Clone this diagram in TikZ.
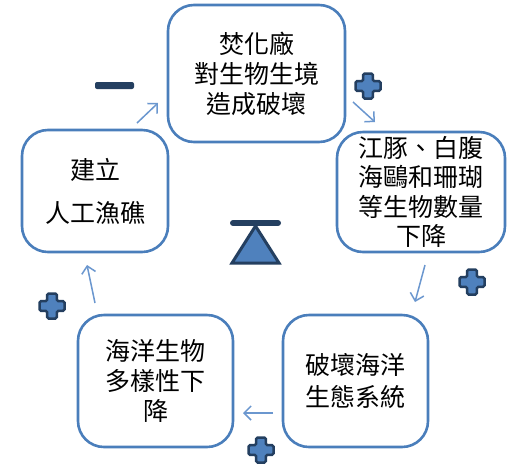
\documentclass[tikz,border=0pt]{standalone}
\usepackage{fontspec}
\newfontfamily\cjk{Noto Sans CJK TC}
\usetikzlibrary{arrows.meta}
\definecolor{boxblue}{HTML}{4A7EBB}
\definecolor{arrowblue}{HTML}{6B97CF}
\definecolor{navy}{HTML}{243F60}
\definecolor{fillblue}{HTML}{4F81BD}
\begin{document}
\begin{tikzpicture}[x=1pt,y=-1pt,
  stage/.style={draw=boxblue, line width=2.6pt, rounded corners=26pt, align=center,
    font=\cjk\fontsize{25}{30}\selectfont, inner sep=0pt, text=black},
  flow/.style={draw=arrowblue, line width=1.5pt, -{Straight Barb[length=7pt,width=14pt]}},
  plussign/.pic={\path[fill=fillblue, draw=navy, line width=2.5pt, rounded corners=1.5pt]
    (-4.8,-12.5) -- (4.8,-12.5) -- (4.8,-4.8) -- (12.5,-4.8) -- (12.5,4.8) -- (4.8,4.8) -- (4.8,12.5)
    -- (-4.8,12.5) -- (-4.8,4.8) -- (-12.5,4.8) -- (-12.5,-4.8) -- (-4.8,-4.8) -- cycle;}
]
\fill[white] (0,0) rectangle (510,472);
\useasboundingbox (0,0) rectangle (510,472);

\node[stage, minimum width=177pt, minimum height=137pt] (top) at (256.5,73.5)
  {焚化廠\\對生物生境\\造成破壞};
\node[stage, minimum width=168pt, minimum height=120pt,
  font=\cjk\fontsize{25}{29.5}\selectfont] (right) at (421,192)
  {江豚、白腹\\海鷗和珊瑚\\等生物數量\\下降};
\node[stage, minimum width=145pt, minimum height=132pt,
  font=\cjk\fontsize{25}{32}\selectfont] (bright) at (355.5,381)
  {破壞海洋\\生態系統};
\node[stage, minimum width=155pt, minimum height=132pt] (bleft) at (155.5,381)
  {海洋生物\\多樣性下\\降};
\node[stage, minimum width=146pt, minimum height=122pt] (left) at (95,191)
  {建立\\[13pt]人工漁礁};

\coordinate (a1s) at (137,123); \coordinate (a1e) at (158,103);
\coordinate (a2s) at (353,102); \coordinate (a2e) at (375,122);
\coordinate (a3s) at (425,265); \coordinate (a3e) at (415,302);
\coordinate (a4s) at (273,413); \coordinate (a4e) at (243,413);
\coordinate (a5s) at (95,303);  \coordinate (a5e) at (87,265);
\draw[flow] (a1s) -- (a1e);
\draw[flow] (a2s) -- (a2e);
\draw[flow] (a3s) -- (a3e);
\draw[flow] (a4s) -- (a4e);
\draw[flow] (a5s) -- (a5e);

\pic at (368,86) {plussign};
\pic at (472,282) {plussign};
\pic at (52,306) {plussign};
\pic at (261,450) {plussign};

\node[fill=navy, rounded corners=2pt, minimum width=39pt, minimum height=7pt, inner sep=0pt] (minus) at (114.5,85.5) {};

\draw[navy, line width=6pt, line cap=round] (233,223) -- (278,223);
\draw[fill=fillblue, draw=navy, line width=3pt, line join=miter] (255.5,226) -- (279,263) -- (232,263) -- cycle;
\end{tikzpicture}
\end{document}
